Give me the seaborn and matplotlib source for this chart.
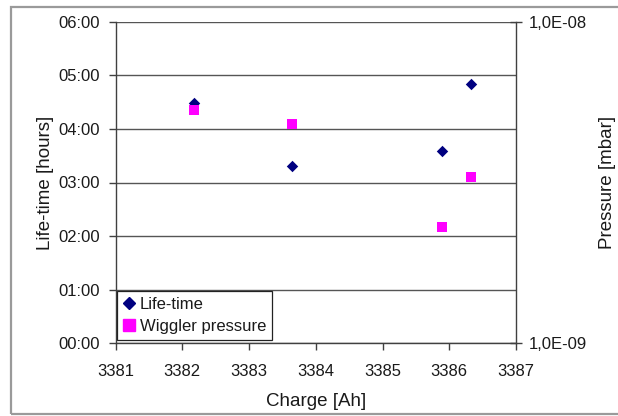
import matplotlib
matplotlib.use("Agg")
import matplotlib.pyplot as plt
import seaborn as sns
import pandas as pd
from matplotlib.ticker import FixedLocator, FixedFormatter, NullLocator
from matplotlib.lines import Line2D
from matplotlib.patches import Rectangle

# ---- data ----
charge_ah = [3382.18, 3383.64, 3385.89, 3386.33]
lifetime_hours = [4.49, 3.30, 3.59, 4.83]
pressure_mbar = [5.31e-9, 4.82e-9, 2.30e-9, 3.30e-9]

charge_ticks = [3381, 3382, 3383, 3384, 3385, 3386, 3387]
hour_ticks = [0, 1, 2, 3, 4, 5, 6]
hour_labels = ["00:00", "01:00", "02:00", "03:00", "04:00", "05:00", "06:00"]
pressure_ticks = [1e-9, 1e-8]
pressure_labels = ["1,0E-09", "1,0E-08"]
series_names = ["Life-time", "Wiggler pressure"]

df = pd.DataFrame({"charge": charge_ah, "lifetime": lifetime_hours,
                   "pressure": pressure_mbar})

sns.set_style("white")
plt.rcParams["font.family"] = ["Liberation Sans", "DejaVu Sans"]

fig = plt.figure(figsize=(6.18, 4.16), dpi=100)
W, H = 618.0, 416.0
ax = fig.add_axes([115.5 / W, (H - 343.3) / H, 400.5 / W, 321.6 / H])

# outer chart frame
fig.patches.append(Rectangle((11 / W, 2.5 / H), 1.0, 406.5 / H, transform=fig.transFigure,
                             fill=False, edgecolor="#9a9a9a", linewidth=1.6))

navy = "#000080"
magenta = "#FF00FF"
txt = "#1a1a1a"

sns.scatterplot(data=df, x="charge", y="lifetime", ax=ax, marker="D", s=34,
                color=navy, linewidth=0, legend=False, zorder=3)
ax.set_xlim(3381, 3387)
ax.set_ylim(0, 6)
ax.xaxis.set_major_locator(FixedLocator(charge_ticks))
ax.set_xticklabels([str(t) for t in charge_ticks])
ax.yaxis.set_major_locator(FixedLocator(hour_ticks))
ax.yaxis.set_major_formatter(FixedFormatter(hour_labels))
ax.grid(axis="y", color="#555555", linewidth=1.0)
ax.grid(axis="x", visible=False)
ax.set_axisbelow(True)
for s in ["top", "right"]:
    ax.spines[s].set_visible(False)
ax.spines["left"].set_color("#404040")
ax.spines["bottom"].set_color("#404040")
ax.spines["left"].set_linewidth(1.0)
ax.spines["bottom"].set_linewidth(1.0)
ax.tick_params(axis="both", direction="out", length=5, width=1.0, color="#404040",
               labelsize=12, labelcolor=txt)
ax.tick_params(axis="y", pad=6, left=True)
ax.tick_params(axis="x", pad=10, bottom=True)
ax.set_xlabel("Charge [Ah]", fontsize=13.5, color=txt, labelpad=10)
ax.set_ylabel("Life-time [hours]", fontsize=13.5, color=txt, labelpad=3)

ax2 = ax.twinx()
sns.scatterplot(data=df, x="charge", y="pressure", ax=ax2, marker="s", s=58,
                color=magenta, linewidth=0, legend=False, zorder=3)
ax2.set_yscale("log")
ax2.set_ylim(1e-9, 1e-8)
ax2.yaxis.set_major_locator(FixedLocator(pressure_ticks))
ax2.yaxis.set_major_formatter(FixedFormatter(pressure_labels))
ax2.yaxis.set_minor_locator(NullLocator())
ax2.grid(False)
for s in ["top", "left", "bottom"]:
    ax2.spines[s].set_visible(False)
ax2.spines["right"].set_color("#404040")
ax2.spines["right"].set_linewidth(1.0)
ax2.tick_params(axis="y", direction="inout", length=8, width=1.0, color="#404040",
                labelsize=12, labelcolor=txt, pad=5, right=True)
ax2.set_ylabel("Pressure [mbar]", fontsize=13.5, color=txt, labelpad=9)

handles = [Line2D([], [], marker="D", color=navy, ls="none", markersize=6.5),
           Line2D([], [], marker="s", color=magenta, ls="none", markersize=8)]
leg = ax2.legend(handles, series_names, loc="lower left", bbox_to_anchor=(0.004, 0.01),
                 borderaxespad=0, frameon=True, fancybox=False, framealpha=1,
                 edgecolor="#222222", fontsize=12, handlelength=0.7,
                 handletextpad=0.3, labelspacing=0.45, borderpad=0.35)
leg.get_frame().set_linewidth(0.9)
for t in leg.get_texts():
    t.set_color(txt)

fig.savefig("out.png", dpi=100)
